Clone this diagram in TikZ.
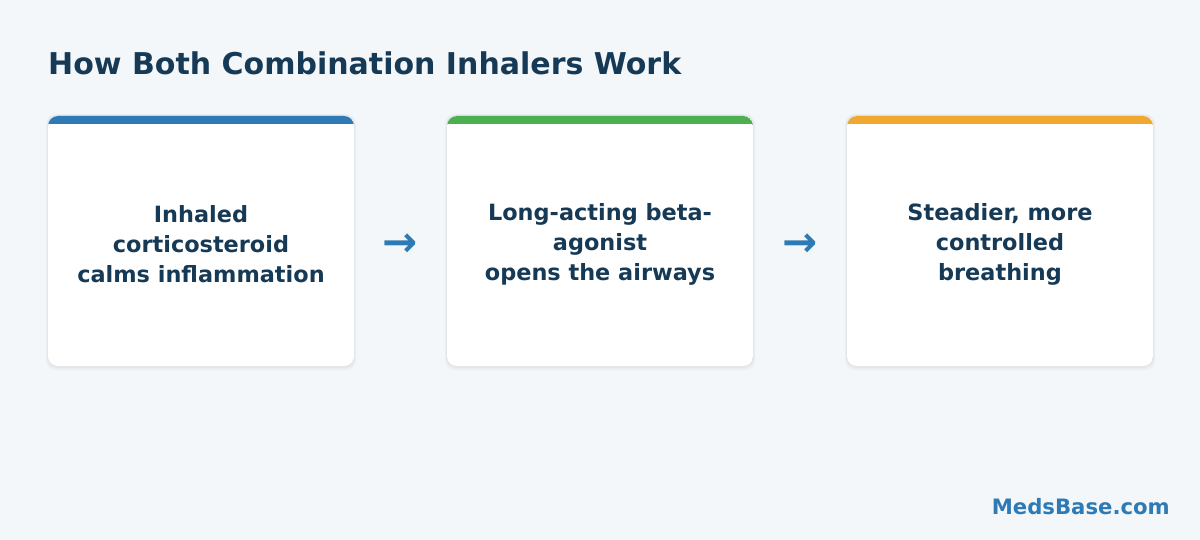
\documentclass[tikz,border=0pt]{standalone}
\usepackage{fontspec}
\setmainfont{DejaVu Sans}
\definecolor{bg}{HTML}{F3F7FA}
\definecolor{navy}{HTML}{163A56}
\definecolor{cblue}{HTML}{2E7AB5}
\definecolor{cgreen}{HTML}{4CAF50}
\definecolor{corange}{HTML}{F0A830}
\tikzset{
  cardtext/.style={font=\bfseries\fontsize{22.4}{30}\selectfont, text=navy, align=center},
  arrowtxt/.style={font=\bfseries\fontsize{42}{42}\selectfont, text=cblue, inner sep=0},
}
\newcommand{\mycard}[4]{%
  % #1 name, #2 left x, #3 colour, #4 text
  \fill[black, opacity=0.03, rounded corners=10pt] (#2-2,114) rectangle (#2+308,370);
  \fill[black, opacity=0.03, rounded corners=10pt] (#2-1,115) rectangle (#2+307,368);
  \begin{scope}
    \clip[rounded corners=10pt] (#2,116) rectangle (#2+306,366);
    \fill[white] (#2,116) rectangle (#2+306,366);
    \fill[#3, rounded corners=10pt] (#2,116) rectangle (#2+306,134);
    \fill[white] (#2,124) rectangle (#2+306,140);
  \end{scope}
  \node[cardtext] (#1) at (#2+153,244) {#4};
}
\begin{document}
\begin{tikzpicture}[x=1pt,y=-1pt]
\fill[bg] (0,0) rectangle (1200,540);
\useasboundingbox (0,0) rectangle (1200,540);
\node[anchor=base west, font=\bfseries\fontsize{30}{36}\selectfont, text=navy, inner sep=0] (title) at (48,75) {How Both Combination Inhalers Work};
\mycard{c1}{48}{cblue}{Inhaled\\corticosteroid\\calms inflammation}
\mycard{c2}{447}{cgreen}{Long-acting beta-\\agonist\\opens the airways}
\mycard{c3}{847}{corange}{Steadier, more\\controlled\\breathing}
\node[arrowtxt] (a1) at (400,245) {→};
\node[arrowtxt] (a2) at (800,245) {→};
\node[anchor=base east, font=\bfseries\fontsize{21.2}{24}\selectfont, text=cblue, inner sep=0] (logo) at (1170,514) {MedsBase.com};
\end{tikzpicture}
\end{document}
